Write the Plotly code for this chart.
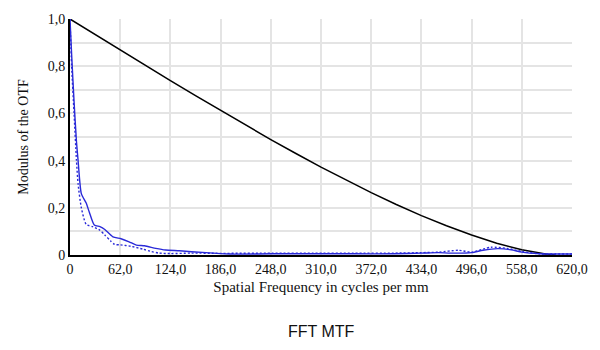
import plotly.graph_objects as go

# Diffraction-limited curve (black)
freq_diff = [0, 31, 62, 93, 124, 155, 186, 217, 248, 279, 310, 341, 372, 403, 434, 465, 496, 527, 558, 589, 600]
mtf_diff = [1.0, 0.934, 0.869, 0.804, 0.739, 0.675, 0.612, 0.550, 0.489, 0.430, 0.372, 0.318, 0.264, 0.214, 0.167, 0.124, 0.085, 0.050, 0.022, 0.003, 0.0]

# Solid blue curve
freq_solid = [0, 2, 5, 8, 10, 14, 20, 24, 30, 37, 43, 53, 63, 73, 82, 92, 106, 118, 135, 150, 186, 200, 250, 300, 350, 400, 434, 455, 470, 496, 510, 528, 545, 558, 580, 600, 620]
mtf_solid = [1.0, 0.85, 0.65, 0.48, 0.40, 0.26, 0.22, 0.18, 0.127, 0.12, 0.108, 0.077, 0.069, 0.056, 0.042, 0.039, 0.028, 0.021, 0.018, 0.014, 0.006, 0.004, 0.005, 0.005, 0.005, 0.005, 0.008, 0.01, 0.008, 0.01, 0.02, 0.027, 0.022, 0.012, 0.005, 0.004, 0.004]

# Dotted blue curve
freq_dot = [0, 2, 5, 8, 10, 14, 20, 28, 37, 43, 50, 55, 62, 75, 90, 100, 110, 124, 150, 186, 250, 300, 350, 400, 434, 455, 480, 496, 520, 540, 558, 580, 600, 620]
mtf_dot = [1.0, 0.8, 0.6, 0.4, 0.3, 0.2, 0.13, 0.12, 0.105, 0.085, 0.06, 0.045, 0.043, 0.037, 0.025, 0.015, 0.008, 0.006, 0.008, 0.007, 0.008, 0.008, 0.008, 0.008, 0.01, 0.012, 0.02, 0.012, 0.033, 0.028, 0.015, 0.005, 0.004, 0.004]

x_ticks = [0, 62, 124, 186, 248, 310, 372, 434, 496, 558, 620]
x_labels = ["0", "62,0", "124,0", "186,0", "248,0", "310,0", "372,0", "434,0", "496,0", "558,0", "620,0"]
y_ticks = [0, 0.2, 0.4, 0.6, 0.8, 1.0]
y_labels = ["0", "0,2", "0,4", "0,6", "0,8", "1,0"]

serif = "Liberation Serif, Times New Roman, serif"
blue = "#2a2ad8"

fig = go.Figure()
fig.add_trace(go.Scatter(x=freq_diff, y=mtf_diff, mode="lines",
                         line=dict(color="black", width=1.5), showlegend=False, cliponaxis=False))
fig.add_trace(go.Scatter(x=freq_dot, y=mtf_dot, mode="lines",
                         line=dict(color=blue, width=1.4, dash="2px,2px", shape="spline", smoothing=0.6),
                         showlegend=False))
fig.add_trace(go.Scatter(x=freq_solid, y=mtf_solid, mode="lines",
                         line=dict(color=blue, width=1.4, shape="spline", smoothing=0.6),
                         showlegend=False))

fig.update_layout(
    width=600, height=350,
    margin=dict(l=70, r=22, t=18, b=95),
    paper_bgcolor="white", plot_bgcolor="white",
    font=dict(family=serif, size=14, color="#111"),
    annotations=[dict(text="FFT MTF", x=0.5, y=-0.325, xref="paper", yref="paper",
                      showarrow=False, font=dict(family="Liberation Sans, Arial, sans-serif", size=16, color="#111"),
                      yanchor="middle")],
)
fig.update_xaxes(range=[0, 620], tickvals=x_ticks, ticktext=x_labels,
                 ticklabeloverflow="allow",
                 showgrid=True, gridcolor="#e4e4e4", gridwidth=1.5,
                 showline=True, linecolor="black", linewidth=2, ticks="",
                 zeroline=False, tickfont=dict(size=14),
                 title=dict(text="Spatial Frequency in cycles per mm", font=dict(family=serif, size=15), standoff=6))
fig.update_yaxes(range=[0, 1.0], tickvals=y_ticks, ticktext=y_labels,
                 showgrid=True, gridcolor="#e4e4e4", gridwidth=1.5,
                 minor=dict(dtick=0.1, showgrid=True, gridcolor="#e4e4e4", gridwidth=1.5),
                 showline=True, linecolor="black", linewidth=2, ticks="",
                 zeroline=False, tickfont=dict(size=14),
                 title=dict(text="Modulus of the OTF", font=dict(family=serif, size=14), standoff=16))

fig.write_html("out.html")
